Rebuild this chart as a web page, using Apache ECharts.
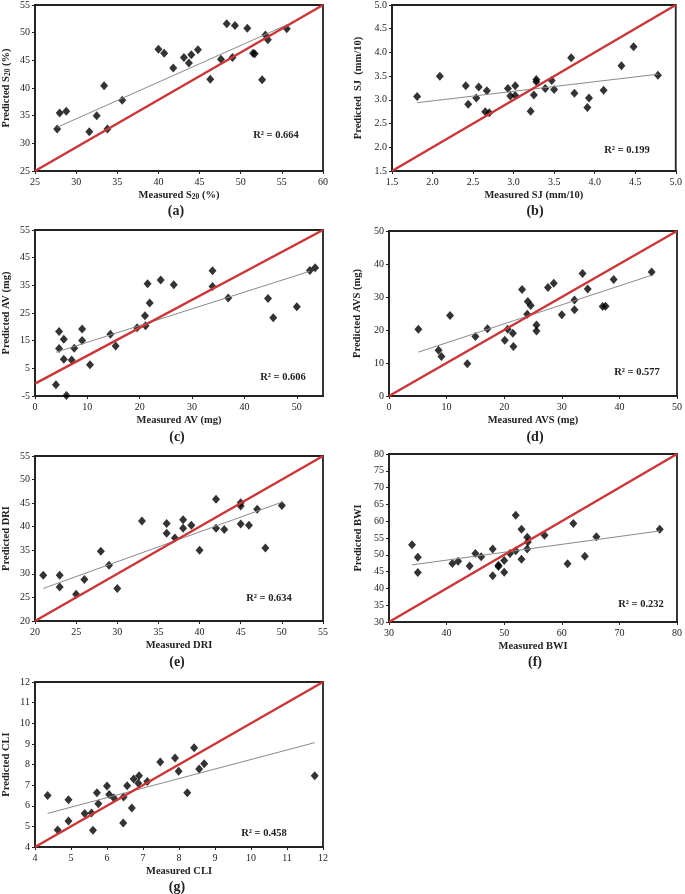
<!DOCTYPE html>
<html>
<head>
<meta charset="utf-8">
<script src="https://cdn.jsdelivr.net/npm/echarts@6/dist/echarts.min.js"></script>
<style>html,body{margin:0;padding:0;background:#fff;}</style>
</head>
<body>
<div id="main" style="width:685px;height:894px;"></div>
<script>
// (a) S20
var s20Measured  = [27.7, 28.0, 28.8, 31.6, 32.5, 33.4, 33.8, 35.6, 40.0, 40.7, 41.8, 43.1, 43.7, 44.0, 44.8, 46.3, 47.6, 48.3, 49.3, 49.0, 50.8, 51.5, 51.7, 52.6, 53.0, 53.3, 55.6];
var s20Predicted = [32.6, 35.5, 35.8, 32.1, 35.0, 40.4, 32.6, 37.8, 47.0, 46.3, 43.6, 45.5, 44.5, 46.0, 46.9, 41.6, 45.2, 51.6, 51.3, 45.5, 50.8, 46.3, 46.2, 41.5, 49.6, 48.7, 50.7];
var s20TrendX = [27.7, 55.6], s20TrendY = [32.9, 51.4];
// (b) SJ
var sjMeasured  = [1.81, 2.09, 2.41, 2.44, 2.57, 2.54, 2.67, 2.65, 2.70, 2.93, 2.96, 3.02, 3.02, 3.21, 3.25, 3.28, 3.28, 3.39, 3.47, 3.50, 3.71, 3.75, 3.91, 3.93, 4.11, 4.33, 4.48, 4.78];
var sjPredicted = [3.07, 3.50, 3.30, 2.91, 3.27, 3.04, 3.19, 2.75, 2.73, 3.24, 3.08, 3.09, 3.30, 2.76, 3.10, 3.43, 3.38, 3.24, 3.41, 3.22, 3.89, 3.14, 2.84, 3.04, 3.20, 3.72, 4.12, 3.52];
var sjTrendX = [1.81, 4.78], sjTrendY = [2.94, 3.54];
// (c) AV
var avMeasured  = [4.0, 4.6, 4.6, 5.5, 5.5, 6.0, 7.0, 7.5, 9.0, 9.0, 10.5, 14.4, 15.4, 19.5, 21.0, 21.1, 21.5, 21.9, 24.0, 26.5, 33.9, 33.9, 36.9, 44.5, 45.5, 50.0, 52.5, 53.5];
var avPredicted = [-0.9, 18.3, 12.2, 15.5, 8.3, -4.8, 8.0, 12.3, 19.2, 15.1, 6.3, 17.3, 13.1, 19.7, 24.0, 20.4, 35.6, 28.6, 36.9, 35.2, 40.3, 34.6, 30.4, 30.2, 23.3, 27.3, 40.4, 41.4];
var avTrendX = [4.0, 52.5], avTrendY = [10.8, 40.1];
// (d) AVS
var avsMeasured  = [5.1, 8.6, 9.1, 10.6, 13.6, 15.0, 17.1, 20.1, 20.6, 21.5, 21.6, 23.1, 24.0, 24.1, 24.6, 25.6, 25.6, 27.6, 28.6, 30.0, 32.2, 32.2, 33.6, 34.5, 37.1, 37.6, 39.0, 45.6];
var avsPredicted = [20.2, 13.9, 12.0, 24.4, 9.8, 18.0, 20.4, 16.9, 20.2, 19.0, 15.0, 32.3, 24.8, 28.6, 27.4, 21.5, 19.7, 32.9, 34.2, 24.6, 29.1, 26.1, 37.1, 32.4, 27.1, 27.2, 35.3, 37.6];
var avsTrendX = [5.1, 45.6], avsTrendY = [13.3, 36.6];
// (e) DRI
var driMeasured  = [21, 23, 23, 25, 26, 28, 29, 30, 33, 36, 36, 37, 38, 38, 39, 40, 42, 42, 43, 45, 45, 45, 46, 47, 48, 50];
var driPredicted = [29.7, 29.7, 27.2, 25.7, 28.8, 34.8, 31.8, 26.9, 41.2, 40.7, 38.6, 37.6, 41.5, 39.7, 40.3, 35.0, 45.8, 39.7, 39.4, 45.1, 44.4, 40.6, 40.3, 43.7, 35.5, 44.5];
var driTrendX = [21, 50], driTrendY = [26.9, 45.2];
// (f) BWI
var bwiMeasured  = [34, 35, 35, 41, 42, 44, 45, 46, 48, 48, 49, 49, 50, 50, 51, 52, 52, 53, 53, 54, 54.1, 54, 57, 61, 62, 64, 66, 77];
var bwiPredicted = [53.0, 49.3, 44.7, 47.4, 48.1, 46.7, 50.4, 49.4, 51.7, 43.8, 46.9, 46.5, 48.3, 44.8, 50.4, 61.8, 51.2, 57.6, 48.7, 55.2, 53.8, 51.7, 55.8, 47.3, 59.3, 49.6, 55.4, 57.6];
var bwiTrendX = [34, 77], bwiTrendY = [47.0, 57.1];
// (g) CLI
var cliMeasured  = [4.35, 4.63, 4.93, 4.93, 5.38, 5.57, 5.61, 5.72, 5.76, 6.00, 6.06, 6.19, 6.46, 6.45, 6.56, 6.69, 6.74, 6.87, 6.89, 7.12, 7.48, 7.89, 7.99, 8.23, 8.42, 8.56, 8.70, 11.77];
var cliPredicted = [6.50, 4.82, 6.29, 5.26, 5.62, 5.65, 4.81, 6.63, 6.10, 6.96, 6.54, 6.37, 6.42, 5.16, 6.97, 5.89, 7.30, 7.09, 7.46, 7.18, 8.12, 8.31, 7.67, 6.63, 8.81, 7.78, 8.04, 7.46];
var cliTrendX = [4.35, 11.77], cliTrendY = [5.63, 9.06];

var r2Values = ['0.664', '0.199', '0.606', '0.577', '0.634', '0.232', '0.458'];
var panelTags = ['(a)', '(b)', '(c)', '(d)', '(e)', '(f)', '(g)'];

var serif = 'Liberation Serif';
var panels = [
    {mx: s20Measured, py: s20Predicted, tx: s20TrendX, ty: s20TrendY, refX: [25, 60], refY: [25, 55],
     xName: 'Measured S{s|20} (%)', yName: 'Predicted S{s|20} (%)',
     x: [25, 60, 5], y: [25, 55, 5], grid: {left: 32, top: 5, width: 291, height: 166},
     yGap: 23, r2At: [276, 135], tagAt: [176, 211], dec: 0},
    {mx: sjMeasured, py: sjPredicted, tx: sjTrendX, ty: sjTrendY, refX: [1.5, 5], refY: [1.5, 5],
     xName: 'Measured SJ (mm/10)', yName: 'Predicted  SJ  (mm/10)',
     x: [1.5, 5, 0.5], y: [1.5, 5, 0.5], grid: {left: 392, top: 4, width: 287, height: 167},
     yGap: 28, r2At: [627, 150], tagAt: [535, 211], dec: 1},
    {mx: avMeasured, py: avPredicted, tx: avTrendX, ty: avTrendY, refX: [0, 55], refY: [-0.5, 55],
     xName: 'Measured AV (mg)', yName: 'Predicted AV (mg)',
     x: [0, 55, 10], y: [-5, 55, 10], grid: {left: 32, top: 230, width: 291, height: 166},
     yGap: 23, r2At: [283, 377], tagAt: [177, 437], dec: 0, hideMaxX: true},
    {mx: avsMeasured, py: avsPredicted, tx: avsTrendX, ty: avsTrendY, refX: [0, 50], refY: [0, 50],
     xName: 'Measured AVS (mg)', yName: 'Predicted AVS (mg)',
     x: [0, 50, 10], y: [0, 50, 10], grid: {left: 389, top: 231, width: 290, height: 165},
     yGap: 26, r2At: [637, 372], tagAt: [535, 437], dec: 0},
    {mx: driMeasured, py: driPredicted, tx: driTrendX, ty: driTrendY, refX: [20, 55], refY: [20, 55],
     xName: 'Measured DRI', yName: 'Predicted DRI',
     x: [20, 55, 5], y: [20, 55, 5], grid: {left: 32, top: 456, width: 291, height: 165},
     yGap: 23, r2At: [269, 598], tagAt: [177, 662], dec: 0},
    {mx: bwiMeasured, py: bwiPredicted, tx: bwiTrendX, ty: bwiTrendY, refX: [30, 80], refY: [30, 80],
     xName: 'Measured BWI', yName: 'Predicted BWI',
     x: [30, 80, 10], y: [30, 80, 5], grid: {left: 389, top: 454, width: 290, height: 168},
     yGap: 25, r2At: [641, 604], tagAt: [535, 662], dec: 0},
    {mx: cliMeasured, py: cliPredicted, tx: cliTrendX, ty: cliTrendY, refX: [4, 12], refY: [4, 12],
     xName: 'Measured CLI', yName: 'Predicted CLI',
     x: [4, 12, 1], y: [4, 12, 1], grid: {left: 32, top: 682, width: 291, height: 165},
     yGap: 23, r2At: [264, 833], tagAt: [177, 887], dec: 0}
];

function axisName() {
    return {
        fontFamily: serif, fontWeight: 'bold', fontSize: 10.5, color: '#222',
        rich: {s: {fontFamily: serif, fontWeight: 'bold', fontSize: 7.5, color: '#222', padding: [3, 0, 0, 0]}}
    };
}

var grids = [], xAxes = [], yAxes = [], series = [], graphics = [];
panels.forEach(function (p, i) {
    grids.push(Object.assign({show: true, borderColor: '#222', borderWidth: 1.8, backgroundColor: '#fff'}, p.grid));
    var fmt = function (v) { return v.toFixed(p.dec); };
    xAxes.push({
        type: 'value', gridIndex: i, min: p.x[0], max: p.x[1], interval: p.x[2],
        name: p.xName, nameLocation: 'middle', nameGap: 19, nameTextStyle: axisName(),
        axisLine: {show: true, onZero: false, lineStyle: {color: '#222', width: 1.8}},
        axisTick: {show: true, length: 3, lineStyle: {color: '#222'}},
        axisLabel: {fontFamily: serif, fontSize: 10, color: '#222', margin: 6, formatter: fmt, showMaxLabel: !p.hideMaxX},
        splitLine: {show: false}
    });
    yAxes.push({
        type: 'value', gridIndex: i, min: p.y[0], max: p.y[1], interval: p.y[2],
        name: p.yName, nameLocation: 'middle', nameGap: p.yGap, nameTextStyle: axisName(),
        axisLine: {show: true, onZero: false, lineStyle: {color: '#222', width: 1.8}},
        axisTick: {show: true, length: 3, lineStyle: {color: '#222'}},
        axisLabel: {fontFamily: serif, fontSize: 10, color: '#222', margin: 5, formatter: fmt},
        splitLine: {show: false}
    });
    series.push({
        type: 'line', xAxisIndex: i, yAxisIndex: i, symbol: 'none', silent: true,
        data: [[p.tx[0], p.ty[0]], [p.tx[1], p.ty[1]]],
        lineStyle: {color: '#8a8a8a', width: 1}
    });
    series.push({
        type: 'line', xAxisIndex: i, yAxisIndex: i, symbol: 'none', silent: true,
        data: [[p.refX[0], p.refY[0]], [p.refX[1], p.refY[1]]],
        lineStyle: {color: '#c8383a', width: 2.5}
    });
    series.push({
        type: 'scatter', xAxisIndex: i, yAxisIndex: i, symbol: 'diamond', symbolSize: [8, 9],
        itemStyle: {color: '#000'},
        data: p.mx.map(function (v, k) { return [v, p.py[k]]; })
    });
    graphics.push({
        type: 'text', x: p.r2At[0], y: p.r2At[1],
        style: {text: 'R² = ' + r2Values[i], font: 'bold 10.5px "' + serif + '"', fill: '#222', align: 'center', verticalAlign: 'middle'}
    });
    graphics.push({
        type: 'text', x: p.tagAt[0], y: p.tagAt[1],
        style: {text: panelTags[i], font: 'bold 14px "' + serif + '"', fill: '#222', align: 'center', verticalAlign: 'middle'}
    });
});

var myChart = echarts.init(document.getElementById('main'));
myChart.setOption({
    animation: false,
    grid: grids,
    xAxis: xAxes,
    yAxis: yAxes,
    series: series,
    graphic: graphics
});
</script>
</body>
</html>
